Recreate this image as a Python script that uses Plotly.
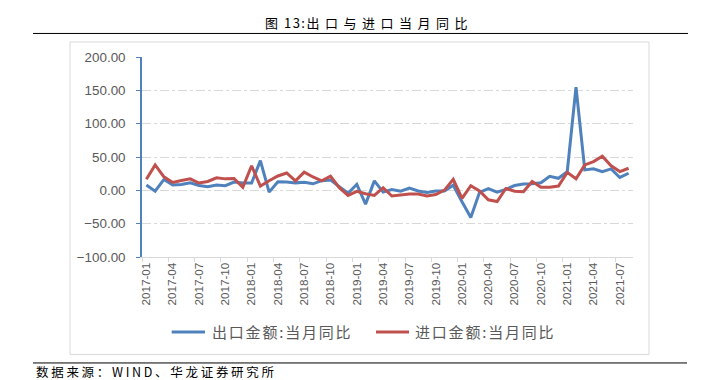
import plotly.graph_objects as go

months = [f"{y}-{m:02d}" for y in range(2017, 2022) for m in range(1, 13)][:56]

exports = [7.9, -1.3, 16.4, 8.0, 8.7, 11.3, 7.2, 5.5, 8.1, 6.9, 12.3, 10.9,
           11.1, 44.5, -2.7, 12.9, 12.6, 11.2, 12.2, 9.8, 14.5, 15.6, 5.4, -4.4,
           9.1, -20.7, 14.2, -2.7, 1.1, -1.3, 3.3, -1.0, -3.2, -0.9, -1.1, 7.6,
           -17.2, -40.6, -3.0, 2.5, -2.7, 1.5, 7.2, 9.5, 9.9, 11.4, 21.1, 18.1,
           28.0, 154.9, 30.6, 32.3, 27.9, 32.2, 19.3, 25.6]

imports = [16.7, 38.1, 20.3, 11.9, 14.8, 17.2, 11.0, 13.3, 18.7, 17.2, 17.7, 4.5,
           36.9, 6.3, 14.4, 21.5, 26.0, 14.1, 27.3, 20.0, 14.3, 21.4, 4.0, -7.6,
           -1.5, -5.2, -7.6, 4.0, -8.5, -7.3, -5.6, -5.6, -8.5, -6.4, 0.3, 16.5,
           -12.0, 7.0, -0.9, -14.2, -16.7, 2.7, -1.4, -2.1, 13.2, 4.7, 4.5, 6.5,
           27.0, 17.3, 38.1, 43.1, 51.1, 36.7, 28.1, 33.1]

series_names = ["出口金额:当月同比", "进口金额:当月同比"]
series_colors = ["#4F81BD", "#C0504D"]
title_prefix = "图 13:"
title_main = "出口与进口当月同比"
source_text = "数据来源：WIND、华龙证券研究所"

# page body has an 8px margin; the figure is sized so it ends at the window edge
OFF = 8
W, H = 708 - OFF, 380 - OFF
L, R, T, B = 142, 633, 57, 256.7  # plot area in window pixels


def px_x(p):
    return (p - L) / (R - L)


def px_y(p):
    return (B - p) / (B - T)


fig = go.Figure()
for name, vals, col in zip(series_names, [exports, imports], series_colors):
    fig.add_trace(go.Scatter(x=months, y=vals, mode="lines", name=name,
                             line=dict(color=col, width=3)))

grey = "#595959"
fig.update_layout(
    width=W, height=H,
    margin=dict(l=L - OFF, r=708 - R, t=T - OFF, b=380 - B),
    paper_bgcolor="white", plot_bgcolor="white",
    font=dict(family="Liberation Sans, Noto Sans CJK SC", color=grey, size=12),
    showlegend=False,
    xaxis=dict(type="category", tickmode="linear", dtick=3, tick0=0,
               tickangle=-90, tickson="boundaries", ticks="outside", ticklen=4,
               tickcolor="#d9d9d9", showline=True, linecolor="#d9d9d9", linewidth=1,
               showgrid=False, tickfont=dict(size=11.7, color=grey, family="Liberation Sans"),
               range=[-0.5, 55.5]),
    yaxis=dict(range=[-100, 200], dtick=50, tick0=0, tickformat=".2f",
               showline=True, linecolor="#4F81BD", linewidth=1.5,
               ticks="outside", ticklen=4, tickcolor="#4F81BD", ticklabelstandoff=8,
               showgrid=True, gridcolor="#d9d9d9", gridwidth=1, griddash="dashdot",
               zeroline=False, tickfont=dict(size=13.4, color=grey, family="Liberation Sans")),
)

shapes = [
    dict(type="rect", xref="paper", yref="paper", x0=px_x(70), x1=px_x(649), y0=px_y(354), y1=px_y(42),
         line=dict(color="#d9d9d9", width=1), fillcolor="rgba(0,0,0,0)", layer="below"),
    dict(type="line", xref="paper", yref="paper", x0=px_x(33), x1=px_x(688), y0=px_y(33.5), y1=px_y(33.5),
         line=dict(color="black", width=1)),
    dict(type="line", xref="paper", yref="paper", x0=px_x(33), x1=px_x(687), y0=px_y(362.5), y1=px_y(362.5),
         line=dict(color="black", width=1)),
]

# legend drawn as line samples + labels
legend_line_x = [(171.7, 205), (376, 409)]
legend_text_x = [210, 413]
legend_y = 331.5
for (a, b), tx, name, col in zip(legend_line_x, legend_text_x, series_names, series_colors):
    shapes.append(dict(type="line", xref="paper", yref="paper", x0=px_x(a), x1=px_x(b),
                       y0=px_y(legend_y), y1=px_y(legend_y), line=dict(color=col, width=3)))
    fig.add_annotation(text=f'<span style="letter-spacing:1.8px">{name}</span>', xref="paper", yref="paper",
                       x=px_x(tx), y=px_y(legend_y), xanchor="left", yanchor="middle", showarrow=False,
                       font=dict(size=15, color=grey, family="Noto Sans CJK SC"))
fig.update_layout(shapes=shapes)

fig.add_annotation(text=(f'<span style="letter-spacing:1.5px">{title_prefix}</span>'
                         f'<span style="letter-spacing:5.5px">{title_main}</span>'),
                   xref="paper", yref="paper",
                   x=px_x(263), y=px_y(22.5), xanchor="left", yanchor="middle", showarrow=False,
                   font=dict(size=13, color="black", family="Noto Sans CJK SC"))
fig.add_annotation(text=f'<span style="letter-spacing:2.7px">{source_text}</span>', xref="paper", yref="paper",
                   x=px_x(34), y=px_y(371), xanchor="left", yanchor="middle", showarrow=False,
                   font=dict(size=12.5, color="black", family="Noto Sans CJK SC"))

fig.write_html("out.html")
